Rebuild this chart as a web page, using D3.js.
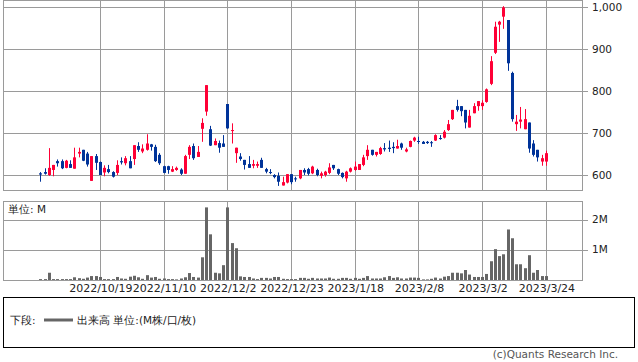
<!DOCTYPE html>
<html>
<head>
<meta charset="utf-8">
<script src="https://cdn.jsdelivr.net/npm/d3@7"></script>
<style>
  body { margin: 0; background: #fff; }
  svg text { font-family: "DejaVu Sans", Verdana, sans-serif; fill: #222; }
</style>
</head>
<body>
<svg id="chart" width="638" height="362"></svg>
<script>
// trading days shown on the chart
const dates = [
  '2022/9/28','2022/9/29','2022/9/30','2022/10/3','2022/10/4','2022/10/5','2022/10/6','2022/10/7',
  '2022/10/11','2022/10/12','2022/10/13','2022/10/14','2022/10/17','2022/10/18','2022/10/19',
  '2022/10/20','2022/10/21','2022/10/24','2022/10/25','2022/10/26','2022/10/27','2022/10/28',
  '2022/10/31','2022/11/1','2022/11/2','2022/11/4','2022/11/7','2022/11/8','2022/11/9','2022/11/10',
  '2022/11/11','2022/11/14','2022/11/15','2022/11/16','2022/11/17','2022/11/18','2022/11/21',
  '2022/11/22','2022/11/24','2022/11/25','2022/11/28','2022/11/29','2022/11/30','2022/12/1','2022/12/2',
  '2022/12/5','2022/12/6','2022/12/7','2022/12/8','2022/12/9','2022/12/12','2022/12/13','2022/12/14',
  '2022/12/15','2022/12/16','2022/12/19','2022/12/20','2022/12/21','2022/12/22','2022/12/23',
  '2022/12/26','2022/12/27','2022/12/28','2022/12/29','2022/12/30','2023/1/4','2023/1/5','2023/1/6',
  '2023/1/10','2023/1/11','2023/1/12','2023/1/13','2023/1/16','2023/1/17','2023/1/18',
  '2023/1/19','2023/1/20','2023/1/23','2023/1/24','2023/1/25','2023/1/26','2023/1/27','2023/1/30',
  '2023/1/31','2023/2/1','2023/2/2','2023/2/3','2023/2/6','2023/2/7','2023/2/8',
  '2023/2/9','2023/2/10','2023/2/13','2023/2/14','2023/2/15','2023/2/16','2023/2/17','2023/2/20',
  '2023/2/21','2023/2/22','2023/2/24','2023/2/27','2023/2/28','2023/3/1','2023/3/2',
  '2023/3/3','2023/3/6','2023/3/7','2023/3/8','2023/3/9','2023/3/10','2023/3/13','2023/3/14',
  '2023/3/15','2023/3/16','2023/3/17','2023/3/20','2023/3/22','2023/3/23','2023/3/24'
];

const open = [
  604,607,600,612,633,633,617,626,615,651,660,651,586,645,631,
  606,614,607,605,633,628,633,638,669,656,660,673,667,648,621,
  621,608,612,613,603,648,669,643,710,751,709,671,676,675,769,
  705,652,644,636,626,622,622,636,614,607,600,598,575,582,602,
  592,592,612,614,604,612,598,600,605,624,614,605,592,608,612,
  612,624,645,660,648,650,664,665,667,663,675,656,667,682,681,
  679,679,678,682,688,689,707,733,764,764,755,713,747,764,764,
  774,817,891,958,977,969,843,721,727,709,725,675,660,632,632
];
const high = [
  607,616,664,624,637,637,636,635,665,665,660,655,645,650,632,
  623,624,609,635,642,645,645,671,678,673,697,674,672,652,622,
  622,621,620,616,648,671,675,669,735,814,717,687,682,695,769,
  723,665,652,636,645,636,632,641,617,614,602,606,596,602,602,
  596,612,616,617,622,615,608,610,628,624,615,606,610,618,632,
  626,648,671,660,655,667,676,682,678,684,677,665,682,691,691,
  681,681,681,697,695,707,731,755,779,764,755,755,771,776,778,
  806,883,965,967,1002,969,846,743,762,757,725,683,660,648,658
];
const low = [
  584,601,598,597,620,614,616,617,615,642,633,620,586,612,600,
  597,604,594,600,625,623,616,624,655,652,658,658,631,624,604,
  603,607,610,600,603,638,636,643,679,741,669,671,653,667,710,
  675,629,634,613,617,616,617,617,604,602,592,574,575,580,578,
  584,590,600,599,602,597,592,596,602,612,600,592,584,606,610,
  612,621,636,646,644,648,656,655,652,663,660,654,666,679,674,
  674,674,667,681,684,687,705,731,751,740,711,713,747,753,755,
  772,814,888,917,948,848,727,705,711,709,653,644,632,622,622
];
const close = [
  601,603,617,624,628,616,634,617,642,655,634,625,645,629,600,
  617,607,596,624,630,640,616,671,660,663,675,667,633,628,605,
  612,614,617,603,645,667,640,655,724,814,670,681,665,667,711,
  707,665,638,624,617,626,626,617,608,605,595,584,583,602,583,
  590,612,606,603,620,600,604,608,618,616,603,595,608,616,620,
  626,642,660,648,655,664,661,662,664,669,665,661,681,689,679,
  674,676,676,695,686,703,721,755,755,752,725,741,764,776,772,
  804,871,953,965,999,866,733,727,732,733,663,648,642,640,652
];
// volume in millions of shares
const volume = [
  0.03,0.03,0.24,0.03,0.03,0.03,0.03,0.03,0.09,0.06,0.04,0.08,0.13,0.13,0.10,
  0.03,0.03,0.03,0.10,0.05,0.04,0.11,0.14,0.09,0.04,0.16,0.08,0.10,0.04,0.05,
  0.03,0.03,0.02,0.05,0.09,0.23,0.10,0.08,0.75,2.40,1.51,0.24,0.22,0.49,2.40,
  1.22,1.05,0.12,0.10,0.10,0.05,0.03,0.07,0.07,0.05,0.10,0.10,0.04,0.03,0.03,
  0.03,0.07,0.07,0.04,0.07,0.05,0.05,0.05,0.08,0.04,0.04,0.07,0.07,0.04,0.07,
  0.04,0.07,0.13,0.05,0.05,0.05,0.09,0.13,0.07,0.09,0.05,0.05,0.08,0.08,0.07,
  0.02,0.02,0.04,0.08,0.05,0.11,0.13,0.24,0.24,0.22,0.33,0.18,0.10,0.10,0.10,
  0.20,0.62,1.02,0.79,0.85,1.67,1.38,0.52,0.52,0.39,0.82,0.24,0.33,0.13,0.13
];

const tickLabels = ['2022/10/19','2022/11/10','2022/12/2','2022/12/23','2023/1/18','2023/2/8','2023/3/2','2023/3/24'];
const priceTicks = [600, 700, 800, 900, 1000];
const volumeTicks = [1, 2];

const svg = d3.select('#chart');
const left = 3, right = 582;
const gridColor = '#9a9a9a';
const upColor = '#ff0036', downColor = '#003399';

// x: position by trading-day index
const x = d3.scaleLinear().domain([-8.8, 127.5]).range([left, right]);
const y = d3.scaleLinear().domain([600, 1000]).range([175, 7]);
const yVol = d3.scaleLinear().domain([0, 2]).range([280, 219.5]);

const candles = dates.map((d, i) => ({
  date: d, i: i, o: open[i], h: high[i], l: low[i], c: close[i], v: volume[i]
}));
const tickIdx = tickLabels.map(t => dates.indexOf(t));

// panel frames
function panel(top, bottom) {
  const g = svg.append('g');
  g.selectAll('line.vgrid')
    .data(tickIdx)
    .enter().append('line')
    .attr('x1', d => Math.round(x(d)) + 0.5).attr('x2', d => Math.round(x(d)) + 0.5)
    .attr('y1', top).attr('y2', bottom)
    .attr('stroke', gridColor);
  g.append('rect')
    .attr('x', left + 0.5).attr('y', top + 0.5)
    .attr('width', right - left).attr('height', bottom - top)
    .attr('fill', 'none').attr('stroke', gridColor);
  return g;
}

const pricePanel = panel(0, 190);
const volPanel = panel(201, 280);

// price grid + right labels
pricePanel.selectAll('line.hgrid')
  .data(priceTicks)
  .enter().append('line')
  .attr('x1', left).attr('x2', right + 6)
  .attr('y1', d => Math.round(y(d)) + 0.5).attr('y2', d => Math.round(y(d)) + 0.5)
  .attr('stroke', gridColor);
pricePanel.selectAll('text.plab')
  .data(priceTicks)
  .enter().append('text')
  .attr('x', 592).attr('y', d => y(d))
  .attr('dy', '0.35em')
  .attr('font-size', 10.5)
  .text(d => d3.format(',')(d));

// volume grid + labels
volPanel.selectAll('line.hgrid')
  .data(volumeTicks)
  .enter().append('line')
  .attr('x1', left).attr('x2', right + 6)
  .attr('y1', d => Math.round(yVol(d)) + 0.5).attr('y2', d => Math.round(yVol(d)) + 0.5)
  .attr('stroke', gridColor);
volPanel.selectAll('text.vlab')
  .data(volumeTicks)
  .enter().append('text')
  .attr('x', 592).attr('y', d => yVol(d))
  .attr('dy', '0.35em')
  .attr('font-size', 10.5)
  .text(d => d + 'M');
volPanel.append('text')
  .attr('x', 8).attr('y', 213)
  .attr('font-size', 10.5)
  .text('単位: M');

// candles
const cg = svg.append('g');
cg.selectAll('line.wick')
  .data(candles)
  .enter().append('line')
  .attr('x1', d => Math.round(x(d.i)) + 0.5).attr('x2', d => Math.round(x(d.i)) + 0.5)
  .attr('y1', d => y(d.h)).attr('y2', d => y(d.l))
  .attr('stroke', d => d.c >= d.o ? upColor : downColor);
cg.selectAll('rect.body')
  .data(candles)
  .enter().append('rect')
  .attr('x', d => Math.round(x(d.i)) - 1)
  .attr('y', d => y(Math.max(d.o, d.c)))
  .attr('width', 3)
  .attr('height', d => Math.max(1, Math.abs(y(d.o) - y(d.c))))
  .attr('fill', d => d.c >= d.o ? upColor : downColor);

// volume bars
svg.append('g').selectAll('rect')
  .data(candles)
  .enter().append('rect')
  .attr('x', d => Math.round(x(d.i)) - 1)
  .attr('y', d => yVol(d.v))
  .attr('width', 3)
  .attr('height', d => yVol(0) - yVol(d.v))
  .attr('fill', '#666');

// date labels
svg.append('g').selectAll('text')
  .data(tickIdx)
  .enter().append('text')
  .attr('x', d => x(d) + 1).attr('y', 292)
  .attr('text-anchor', 'middle')
  .attr('font-size', 11)
  .text((d, i) => tickLabels[i]);

// legend
svg.append('rect')
  .attr('x', 3.5).attr('y', 297.5)
  .attr('width', 631).attr('height', 50)
  .attr('fill', 'none').attr('stroke', '#000');
svg.append('text').attr('x', 10).attr('y', 324).attr('font-size', 10.5).text('下段:');
svg.append('line')
  .attr('x1', 44).attr('x2', 73).attr('y1', 320).attr('y2', 320)
  .attr('stroke', '#666').attr('stroke-width', 3);
svg.append('text').attr('x', 77).attr('y', 324).attr('font-size', 10.5).text('出来高 単位:(M株/口/枚)');

svg.append('text')
  .attr('x', 618).attr('y', 358)
  .attr('text-anchor', 'end')
  .attr('font-size', 10.5)
  .style('fill', '#555')
  .text('(c)Quants Research Inc.');
</script>
</body>
</html>
